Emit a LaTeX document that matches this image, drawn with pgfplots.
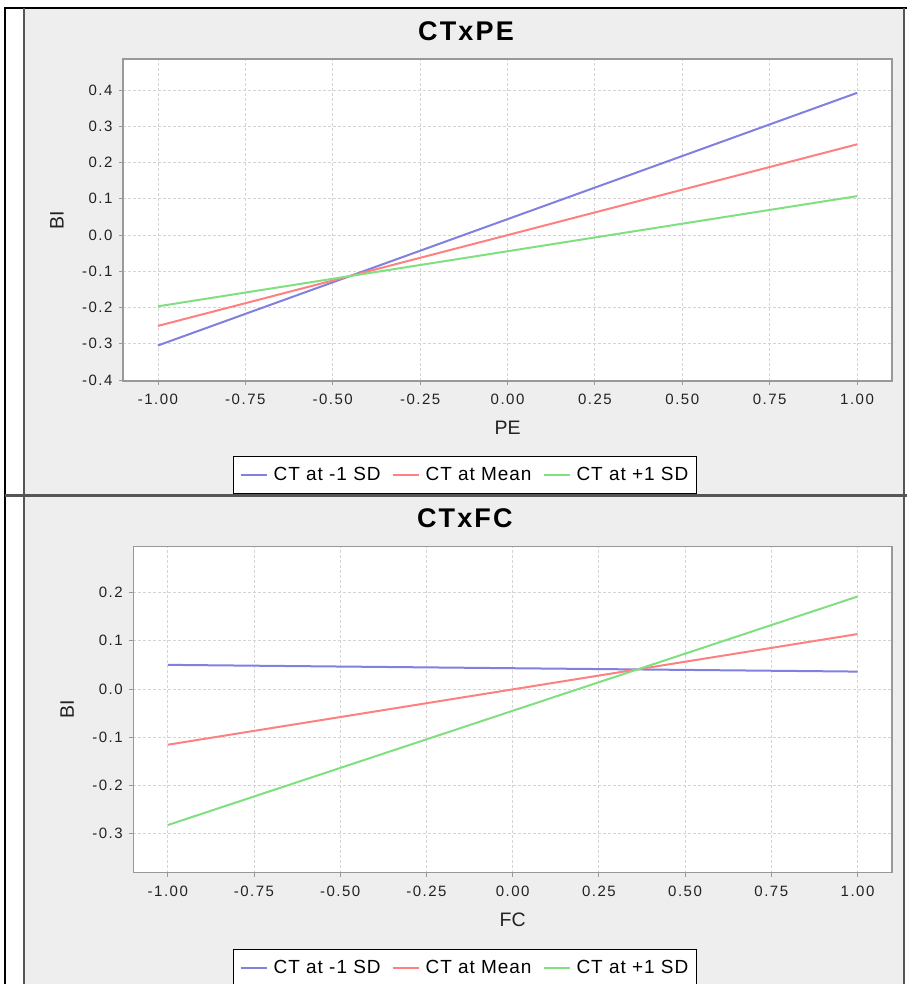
\documentclass[border=0pt]{standalone}
\usepackage{pgfplots}
\pgfplotsset{compat=1.18}
\usepackage{fontspec}
\setmainfont{Liberation Sans}
\newfontfamily\tickfont{Liberation Sans}[LetterSpace=10]
\newfontfamily\legfont{Liberation Sans}[LetterSpace=5]
\newfontfamily\titfont{Liberation Sans}[LetterSpace=8]
\definecolor{panelbg}{HTML}{EEEEEE}
\definecolor{lblue}{HTML}{8080E0}
\definecolor{lred}{HTML}{FF8080}
\definecolor{lgreen}{HTML}{80E080}
\definecolor{gridc}{HTML}{D4D4D4}
\definecolor{tickc}{HTML}{222222}
\definecolor{framec}{HTML}{999999}
\definecolor{borderc}{HTML}{555555}
\pgfplotsset{
  mystyle/.style={
    scale only axis,
    xmin=-1.1, xmax=1.1,
    axis background/.style={fill=white},
    axis line style={framec, line width=1.2pt},
    tick align=outside, tick pos=left,
    major tick length=4pt,
    every tick/.style={framec, line width=0.8pt},
    grid=major,
    major grid style={gridc, dash pattern=on 2.5pt off 2.5pt, line width=0.8pt},
    xtick={-1,-0.75,-0.5,-0.25,0,0.25,0.5,0.75,1},
    xticklabel={\pgfmathprintnumber[fixed,fixed zerofill,precision=2,assume math mode=true]{\tick}},
    yticklabel={\pgfmathprintnumber[fixed,fixed zerofill,precision=1,assume math mode=true]{\tick}},
    ticklabel style={font=\tickfont\fontsize{15}{17}\selectfont, text=tickc},
    xticklabel style={yshift=-6pt},
    yticklabel style={xshift=-3pt},
    label style={font=\fontsize{19.5}{21}\selectfont, text=tickc},
    title style={font=\titfont\bfseries\fontsize{27}{29}\selectfont, anchor=center},
    legend image code/.code={\draw[#1] (0pt,0pt) -- (26pt,0pt);},
    legend style={draw=black, line width=1.2pt, fill=white, legend columns=3,
      font=\legfont\fontsize{19}{21}\selectfont, anchor=north,
      inner xsep=6pt, inner ysep=9pt,
      /tikz/every odd column/.append style={column sep=4pt},
      /tikz/every even column/.append style={column sep=9pt}},
    legend cell align=left,
  },
  ser/.style={line width=2pt, #1, mark=none},
}
\begin{document}
\begin{tikzpicture}[x=1pt,y=1pt]
\useasboundingbox (0,0) rectangle (907,984);
\fill[white] (0,0) rectangle (907,984);
\fill[panelbg] (24,489) rectangle (904,976);
\fill[panelbg] (24,0) rectangle (904,487);
\draw[black, line width=1.5pt] (5,0) -- (5,976) -- (907,976);
\draw[borderc, line width=1.5pt] (24,0) -- (24,976);
\draw[borderc, line width=2.5pt] (904,0) -- (904,976);
\draw[borderc, line width=3pt] (5,488) -- (907,488);

\begin{axis}[mystyle,
  at={(123pt,603pt)}, anchor=south west,
  width=769pt, height=322pt,
  ymin=-0.403, ymax=0.4855,
  ytick={-0.4,-0.3,-0.2,-0.1,0,0.1,0.2,0.3,0.4},
  title={CTxPE}, title style={at={(axis description cs:0.446,1.068)}},
  xlabel={PE}, xlabel style={at={(axis description cs:0.5,-0.146)}, anchor=center},
  ylabel={BI}, ylabel style={at={(axis description cs:-0.0858,0.5)}, anchor=center},
  legend style={at={(axis description cs:0.4447,-0.233)}},
]
\addplot[ser=lblue] coordinates {(-1,-0.305) (1,0.392)};
\addplot[ser=lred] coordinates {(-1,-0.251) (1,0.250)};
\addplot[ser=lgreen] coordinates {(-1,-0.197) (1,0.107)};
\legend{CT at -1 SD, CT at Mean, CT at +1 SD}
\end{axis}

\begin{axis}[mystyle,
  at={(133.3pt,111.3pt)}, anchor=south west,
  width=758.7pt, height=326pt,
  ymin=-0.382, ymax=0.2956,
  ytick={-0.3,-0.2,-0.1,0,0.1,0.2},
  title={CTxFC}, title style={at={(axis description cs:0.437,1.0696)}},
  xlabel={FC}, xlabel style={at={(axis description cs:0.5,-0.144)}, anchor=center},
  ylabel={BI}, ylabel style={at={(axis description cs:-0.087,0.5)}, anchor=center},
  legend style={at={(axis description cs:0.4372,-0.234)}},
]
\addplot[ser=lblue] coordinates {(-1,0.050) (1,0.036)};
\addplot[ser=lred] coordinates {(-1,-0.116) (1,0.114)};
\addplot[ser=lgreen] coordinates {(-1,-0.283) (1,0.192)};
\legend{CT at -1 SD, CT at Mean, CT at +1 SD}
\end{axis}
\end{tikzpicture}
\end{document}
